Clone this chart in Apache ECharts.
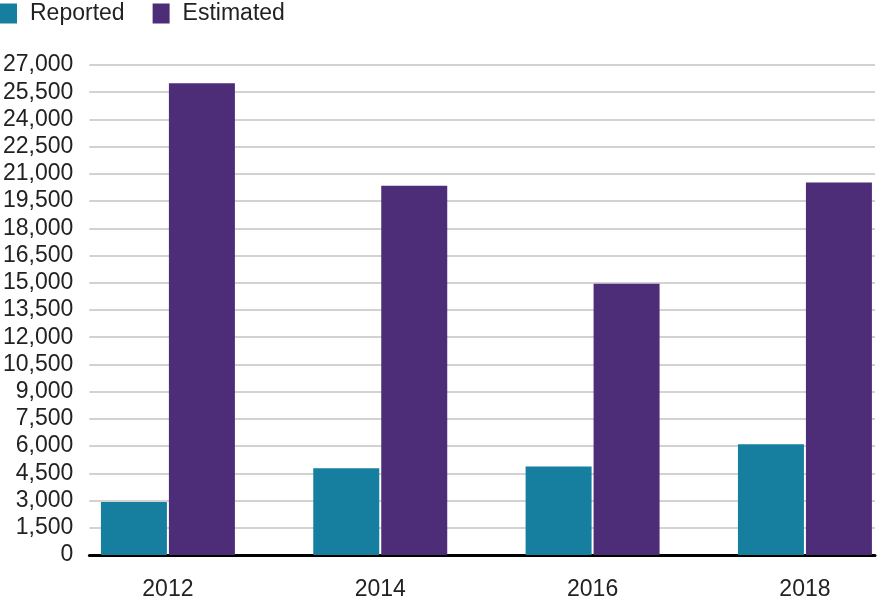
<!DOCTYPE html>
<html>
<head>
<meta charset="utf-8">
<script src="https://cdn.jsdelivr.net/npm/echarts@6/dist/echarts.min.js"></script>
<style>html,body{margin:0;padding:0;background:#fff}#c{width:880px;height:602px}</style>
</head>
<body>
<div id="c"></div>
<script>
var years = [2012, 2014, 2016, 2018];
var reported = [2920, 4780, 4870, 6100];
var estimated = [26000, 20350, 14950, 20520];
var yTicks = [0, 27000, 1500];

function pairs(xs, ys) { return xs.map(function (x, i) { return [x, ys[i]]; }); }

var chart = echarts.init(document.getElementById('c'));
var font = 'Liberation Sans, Arial, sans-serif';
chart.setOption({
  animation: false,
  backgroundColor: '#fff',
  textStyle: { fontFamily: font },
  legend: {
    left: 0, top: 2, padding: 0,
    icon: 'rect', itemWidth: 17, itemHeight: 20, itemGap: 28,
    textStyle: { fontSize: 23, color: '#222', fontFamily: font, padding: [0, 0, 0, 8] },
    data: ['Reported', 'Estimated']
  },
  grid: { left: 89, right: 5, top: 65, bottom: 47, containLabel: false },
  xAxis: {
    type: 'value',
    min: 2011.26, max: 2018.66,
    axisLine: { show: true, onZero: false, lineStyle: { color: '#000', width: 3 } },
    axisTick: { show: false },
    splitLine: { show: false },
    axisLabel: {
      customValues: years,
      formatter: function (v) { return String(v); },
      fontSize: 23, color: '#222', margin: 23, fontFamily: font
    }
  },
  yAxis: {
    type: 'value',
    min: yTicks[0], max: yTicks[1], interval: yTicks[2],
    axisLine: { show: false },
    axisTick: { show: false },
    splitLine: { lineStyle: { color: '#d2d2d2', width: 2 } },
    axisLabel: {
      formatter: function (v) { return v.toLocaleString('en-US'); },
      fontSize: 23, color: '#222', margin: 16, fontFamily: font
    }
  },
  series: [
    { name: 'Reported', type: 'bar', data: pairs(years, reported), barWidth: 66, barGap: '3%',
      itemStyle: { color: '#167fa0' } },
    { name: 'Estimated', type: 'bar', data: pairs(years, estimated), barWidth: 66, barGap: '3%',
      itemStyle: { color: '#4e2d78' } }
  ]
});
</script>
</body>
</html>
